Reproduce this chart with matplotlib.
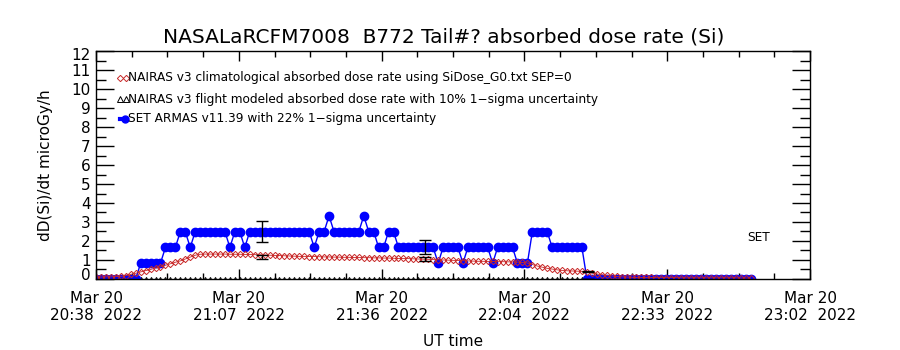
import numpy as np
import matplotlib
matplotlib.use("Agg")
import matplotlib.pyplot as plt
from matplotlib.ticker import MultipleLocator

# Minutes after 20:38 UT, one sample per minute
minutes = np.arange(0, 133)

# SET ARMAS absorbed dose rate (microGy/h)
armas = [
    0, 0, 0, 0, 0, 0, 0, 0, 0, 0.83,
    0.83, 0.83, 0.83, 0.83, 1.66, 1.66, 1.66, 2.49, 2.49, 1.66,
    2.49, 2.49, 2.49, 2.49, 2.49, 2.49, 2.49, 1.66, 2.49, 2.49,
    1.66, 2.49, 2.49, 2.49, 2.49, 2.49, 2.49, 2.49, 2.49, 2.49,
    2.49, 2.49, 2.49, 2.49, 1.66, 2.49, 2.49, 3.32, 2.49, 2.49,
    2.49, 2.49, 2.49, 2.49, 3.32, 2.49, 2.49, 1.66, 1.66, 2.49,
    2.49, 1.66, 1.66, 1.66, 1.66, 1.66, 1.66, 1.66, 1.66, 0.83,
    1.66, 1.66, 1.66, 1.66, 0.83, 1.66, 1.66, 1.66, 1.66, 1.66,
    0.83, 1.66, 1.66, 1.66, 1.66, 0.83, 0.83, 0.83, 2.49, 2.49,
    2.49, 2.49, 1.66, 1.66, 1.66, 1.66, 1.66, 1.66, 1.66, 0,
    0, 0, 0, 0, 0, 0, 0, 0, 0, 0,
    0, 0, 0, 0, 0, 0, 0, 0, 0, 0,
    0, 0, 0, 0, 0, 0, 0, 0, 0, 0,
    0, 0, 0,
]

# NAIRAS v3 climatological dose rate (microGy/h)
nairas_clim = [
    0.10, 0.10, 0.11, 0.11, 0.12, 0.14, 0.18, 0.24, 0.30, 0.37,
    0.44, 0.50, 0.57, 0.64, 0.72, 0.80, 0.88, 0.95, 1.05, 1.15,
    1.25, 1.30, 1.31, 1.31, 1.31, 1.31, 1.31, 1.30, 1.30, 1.30,
    1.29, 1.29, 1.28, 1.27, 1.26, 1.25, 1.24, 1.23, 1.22, 1.21,
    1.20, 1.19, 1.19, 1.18, 1.18, 1.17, 1.16, 1.16, 1.15, 1.15,
    1.14, 1.14, 1.13, 1.13, 1.12, 1.12, 1.11, 1.11, 1.10, 1.10,
    1.09, 1.08, 1.08, 1.07, 1.06, 1.05, 1.04, 1.03, 1.02, 1.01,
    1.00, 0.99, 0.98, 0.97, 0.96, 0.95, 0.94, 0.93, 0.93, 0.92,
    0.92, 0.91, 0.91, 0.90, 0.90, 0.89, 0.87, 0.84, 0.76, 0.68,
    0.62, 0.56, 0.52, 0.48, 0.45, 0.43, 0.42, 0.41, 0.40, 0.36,
    0.31, 0.26, 0.22, 0.19, 0.16, 0.13, 0.11, 0.10, 0.09, 0.08,
    0.08, 0.08, 0.08, 0.07, 0.07, 0.07, 0.07, 0.07, 0.06, 0.06,
    0.06, 0.06, 0.06, 0.06, 0.06, 0.06, 0.06, 0.06, 0.06, 0.06,
    0.05, 0.05, 0.05,
]

# NAIRAS v3 flight modeled values (drawn along the floor)
nairas_flight = [0.0] * len(minutes)

# Error bar samples
err_minutes = [33.5, 66.4, 99.2]
armas_err_mid = [2.49, 1.66, 0.0]
flight_err_mid = [1.16, 1.05, 0.40]
armas_sigma = 0.22
flight_sigma = 0.10

# Axis ticks
tick_minutes = [0, 28.8, 57.6, 86.4, 115.2, 144]
tick_labels = ["Mar 20\n20:38  2022", "Mar 20\n21:07  2022", "Mar 20\n21:36  2022",
               "Mar 20\n22:04  2022", "Mar 20\n22:33  2022", "Mar 20\n23:02  2022"]
y_ticks = list(range(0, 13))

title = "NASALaRCFM7008  B772 Tail#? absorbed dose rate (Si)"
legend_labels = [
    "NAIRAS v3 climatological absorbed dose rate using SiDose_G0.txt SEP=0",
    "NAIRAS v3 flight modeled absorbed dose rate with 10% 1\u2212sigma uncertainty",
    "SET ARMAS v11.39 with 22% 1\u2212sigma uncertainty",
]

BLUE = "#0000ff"
RED = "#c82828"


def main():
    plt.rcParams["font.family"] = "DejaVu Sans"
    fig = plt.figure(figsize=(9, 3.5), dpi=100)
    ax = fig.add_axes([0.1067, 0.203, 0.7933, 0.651])

    # Data
    ax.plot(minutes, nairas_flight, linestyle="none", marker="^", markersize=3,
            markerfacecolor="none", markeredgecolor="black", markeredgewidth=0.7)
    ax.plot(minutes, armas, color=BLUE, linewidth=1, marker="o", markersize=6,
            markerfacecolor=BLUE, markeredgecolor=BLUE)
    ax.plot(minutes, nairas_clim, color=RED, linewidth=0.6, marker="D", markersize=3.2,
            markerfacecolor="none", markeredgecolor=RED, markeredgewidth=0.7)

    # Uncertainties
    ax.errorbar(err_minutes, armas_err_mid, yerr=np.array(armas_err_mid) * armas_sigma,
                fmt="none", ecolor="black", elinewidth=1, capsize=4, capthick=1)
    ax.errorbar(err_minutes, flight_err_mid, yerr=np.array(flight_err_mid) * flight_sigma,
                fmt="none", ecolor="black", elinewidth=1, capsize=4, capthick=1)

    # Axes
    ax.set_xlim(0, 144)
    ax.set_ylim(0, 12)
    ax.set_xticks(tick_minutes)
    ax.set_xticklabels(tick_labels, fontsize=11, linespacing=1.1)
    ax.xaxis.set_minor_locator(MultipleLocator(7.2))
    ax.set_yticks(y_ticks)
    # IDL keeps the end labels inside the axis range, so place those two by hand
    ax.set_yticklabels([""] + [str(v) for v in y_ticks[1:-1]] + [""], fontsize=11)
    ax.annotate(str(y_ticks[0]), xy=(0, y_ticks[0]), xycoords=ax.get_yaxis_transform(),
                xytext=(-4, 2.8), textcoords="offset points", ha="right", va="center",
                fontsize=11)
    ax.annotate(str(y_ticks[-1]), xy=(0, y_ticks[-1]), xycoords=ax.get_yaxis_transform(),
                xytext=(-4, -3), textcoords="offset points", ha="right", va="center",
                fontsize=11)
    ax.yaxis.set_minor_locator(MultipleLocator(0.5))

    ax.tick_params(which="both", direction="in", top=True, right=True, width=1)
    ax.tick_params(axis="x", which="major", length=7, pad=9)
    ax.tick_params(axis="x", which="minor", length=4)
    ax.tick_params(axis="y", which="major", length=13, pad=4)
    ax.tick_params(axis="y", which="minor", length=7)
    for spine in ax.spines.values():
        spine.set_linewidth(1)

    ax.set_xlabel("UT time", fontsize=11, labelpad=8)
    ax.set_ylabel("dD(Si)/dt microGy/h", fontsize=11, labelpad=13)
    ax.set_title(title, fontsize=14.5, pad=6, x=0.487)

    # Legend drawn by hand, IDL style
    rows = [0.882, 0.789, 0.702]
    ax.plot([0.034, 0.042], [rows[0]] * 2, transform=ax.transAxes, linestyle="none",
            marker="D", markersize=3.2, markerfacecolor="none", markeredgecolor=RED,
            markeredgewidth=0.7)
    ax.plot([0.034, 0.042], [rows[1]] * 2, transform=ax.transAxes, linestyle="none",
            marker="^", markersize=4, markerfacecolor="none", markeredgecolor="black",
            markeredgewidth=0.7)
    ax.plot([0.034, 0.044], [rows[2]] * 2, transform=ax.transAxes, color=BLUE,
            linewidth=3)
    ax.plot([0.041], [rows[2]], transform=ax.transAxes, marker="o", markersize=5,
            color=BLUE)
    for y, label in zip(rows, legend_labels):
        ax.text(0.045, y, label, transform=ax.transAxes, fontsize=8.7, va="center")

    ax.text(0.912, 0.18, "SET", transform=ax.transAxes, fontsize=8.7, va="center")

    plt.savefig("out.png", dpi=100)


if __name__ == "__main__":
    main()
